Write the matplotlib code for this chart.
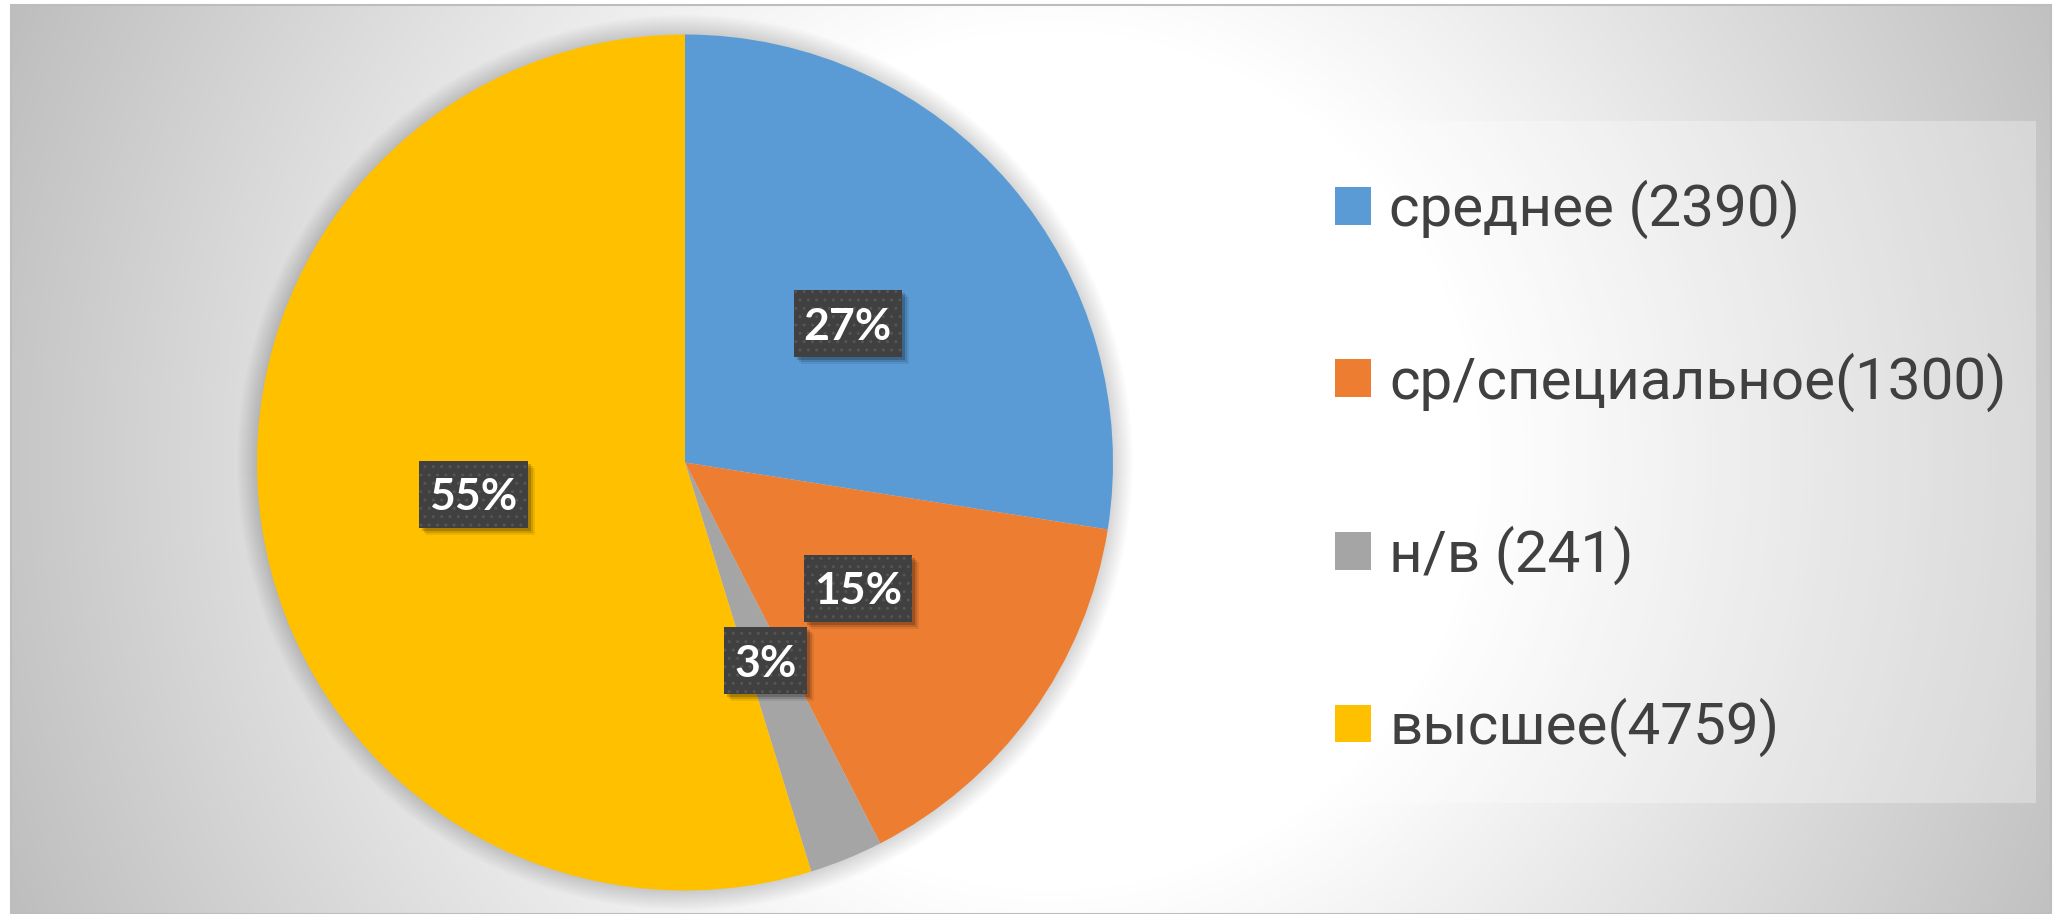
import matplotlib.pyplot as plt
from matplotlib.patches import Rectangle, Circle
import numpy as np

## data ##
categories = ['среднее (2390)', 'ср/специальное(1300)', 'н/в (241)', 'высшее(4759)']
counts = [2390, 1300, 241, 4759]
pct_labels = ['27%', '15%', '3%', '55%']
colors = ['#5B9BD5', '#ED7D31', '#A5A5A5', '#FFC000']

W, H = 2062, 914


def main():
    fig = plt.figure(figsize=(W / 100, H / 100), dpi=100)
    fig.patch.set_alpha(0)
    # one axes in pixel units over the whole figure
    ax = fig.add_axes([0, 0, 1, 1])

    # radial grey -> white fill of the chart area
    yy, xx = np.mgrid[0:H, 0:W]
    r = np.hypot(xx - 1050, yy - 460)
    g = np.clip(255 - 0.093 * (r - 430), 0, 255) / 255
    img = np.zeros((H, W, 4))
    img[..., 0] = g
    img[..., 1] = g
    img[..., 2] = g
    img[..., 3] = ((xx >= 10) & (xx <= 2050) & (yy >= 4) & (yy <= 913)).astype(float)
    ax.imshow(img, extent=(0, W, 0, H), origin='upper', zorder=0,
              interpolation='nearest')
    ax.add_patch(Rectangle((10.5, 0.5), 2040, 909, fill=False,
                           ec='#bdbdbd', lw=1.5, zorder=0.5))

    # pie with a soft glow shadow
    cx, cy, R = 685, H - 462.5, 428
    for k in range(1, 21):
        ax.add_patch(Circle((cx, cy), R + k, fc='black', alpha=0.008,
                            lw=0, zorder=1))
    wedges, _ = ax.pie(counts, colors=colors, startangle=90, counterclock=False,
                       center=(cx, cy), radius=R,
                       wedgeprops=dict(linewidth=0, zorder=2))

    # data labels in dark boxes
    fs = 32
    fs_px = fs * 100 / 72
    cap = 0.72 * fs_px
    fig.canvas.draw()
    for w, lab in zip(wedges, pct_labels):
        th = np.deg2rad((w.theta1 + w.theta2) / 2)
        x = cx + 0.5 * R * np.cos(th)
        y = cy + 0.5 * R * np.sin(th)
        t = ax.text(x, y - cap / 2, lab, ha='center', va='baseline',
                    fontsize=fs, fontweight='bold', color='white',
                    family=['Lato', 'DejaVu Sans'], zorder=6)
        tw = t.get_window_extent(fig.canvas.get_renderer()).width
        bw, bh = tw + 20, 67
        for off, a in [(3, 0.18), (5, 0.12), (7, 0.08)]:
            ax.add_patch(Rectangle((x - bw / 2 + off, y - bh / 2 - off), bw, bh,
                                   fc='black', alpha=a, lw=0, zorder=4))
        ax.add_patch(Rectangle((x - bw / 2, y - bh / 2), bw, bh, fc='#404040',
                               ec='#555555', lw=0, hatch='..', zorder=5))

    # legend
    ax.add_patch(Rectangle((1282, H - 803), 754, 682, fc='white', alpha=0.3,
                           lw=0, zorder=1.5))
    lfs = 42
    lfs_px = lfs * 100 / 72
    ax.legend(wedges, categories, loc='upper left',
              bbox_to_anchor=(1335 / W, (H - 180) / H), frameon=False,
              prop=dict(family=['Roboto', 'DejaVu Sans'], size=lfs),
              labelcolor='#404040', handlelength=36 / lfs_px,
              handleheight=36 / lfs_px, handletextpad=18 / lfs_px,
              labelspacing=1.94, borderpad=0, borderaxespad=0)

    ax.set_xlim(0, W)
    ax.set_ylim(0, H)
    ax.set_aspect('auto')
    ax.axis('off')

    fig.savefig('out.png', dpi=100, facecolor='none')


if __name__ == "__main__":
    main()
